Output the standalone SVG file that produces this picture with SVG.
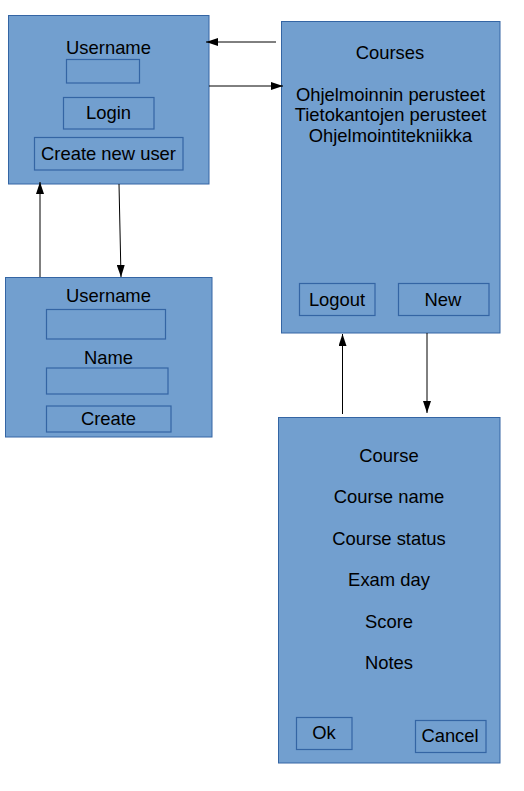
<svg xmlns="http://www.w3.org/2000/svg" width="524" height="791" viewBox="0 0 524 791">
<defs>
<style>
.box{fill:#729fcf;stroke:#3465a4;stroke-width:1}
.btn{fill:none;stroke:#3465a4;stroke-width:1.2}
text{font-family:"Liberation Sans",Arial,sans-serif;font-size:18.4px;fill:#000;text-anchor:middle}
.conn{stroke:#000;stroke-width:1;fill:none;marker-end:url(#arr)}
</style>
<marker id="arr" viewBox="0 0 12 8" refX="12" refY="4" markerWidth="12" markerHeight="8" markerUnits="userSpaceOnUse" orient="auto">
<path d="M0,0 L12,4 L0,8 Z" fill="#000"/>
</marker>
</defs>
<rect width="524" height="791" fill="#fff"/>
<g id="login">
<rect class="box" x="8.5" y="15.5" width="200.5" height="168.5"/>
<text x="108.5" y="54">Username</text>
<rect class="btn" x="66.5" y="59.5" width="73" height="23.5"/>
<rect class="btn" x="63.5" y="97.5" width="90.5" height="31.5"/>
<text x="108.5" y="119">Login</text>
<rect class="btn" x="34.5" y="137.5" width="148.5" height="32.5"/>
<text x="108.5" y="160">Create new user</text>
</g>
<g id="courses">
<rect class="box" x="281.5" y="21.5" width="218.5" height="311.5"/>
<text x="390" y="58.5">Courses</text>
<text x="390.5" y="101">Ohjelmoinnin perusteet</text>
<text x="390.5" y="121">Tietokantojen perusteet</text>
<text x="390.5" y="141.5">Ohjelmointitekniikka</text>
<rect class="btn" x="299.5" y="283.5" width="75.5" height="32"/>
<text x="337" y="306">Logout</text>
<rect class="btn" x="398.5" y="283.5" width="90.5" height="32"/>
<text x="443" y="306">New</text>
</g>
<g id="newuser">
<rect class="box" x="5.5" y="277.5" width="206.5" height="159.5"/>
<text x="108.5" y="302">Username</text>
<rect class="btn" x="46.5" y="309.5" width="119" height="29.5"/>
<text x="108.5" y="364">Name</text>
<rect class="btn" x="46.5" y="368" width="121.5" height="26"/>
<rect class="btn" x="46.5" y="406" width="124.5" height="26"/>
<text x="108.5" y="425">Create</text>
</g>
<g id="course">
<rect class="box" x="278.5" y="417.5" width="221.5" height="345.5"/>
<text x="389" y="462">Course</text>
<text x="389" y="503">Course name</text>
<text x="389" y="545">Course status</text>
<text x="389" y="586">Exam day</text>
<text x="389" y="627.5">Score</text>
<text x="389" y="668.5">Notes</text>
<rect class="btn" x="296.5" y="717.5" width="55.5" height="32"/>
<text x="324" y="738.5">Ok</text>
<rect class="btn" x="415.5" y="720.5" width="70.5" height="32"/>
<text x="450" y="742">Cancel</text>
</g>
<g id="connectors">
<line class="conn" x1="276" y1="42" x2="206" y2="42"/>
<line class="conn" x1="209" y1="86" x2="283" y2="86"/>
<line class="conn" x1="40" y1="277" x2="40" y2="182"/>
<line class="conn" x1="119" y1="184" x2="121" y2="277"/>
<line class="conn" x1="342.5" y1="414" x2="342.5" y2="334"/>
<line class="conn" x1="427" y1="333" x2="427" y2="413"/>
</g>
</svg>
